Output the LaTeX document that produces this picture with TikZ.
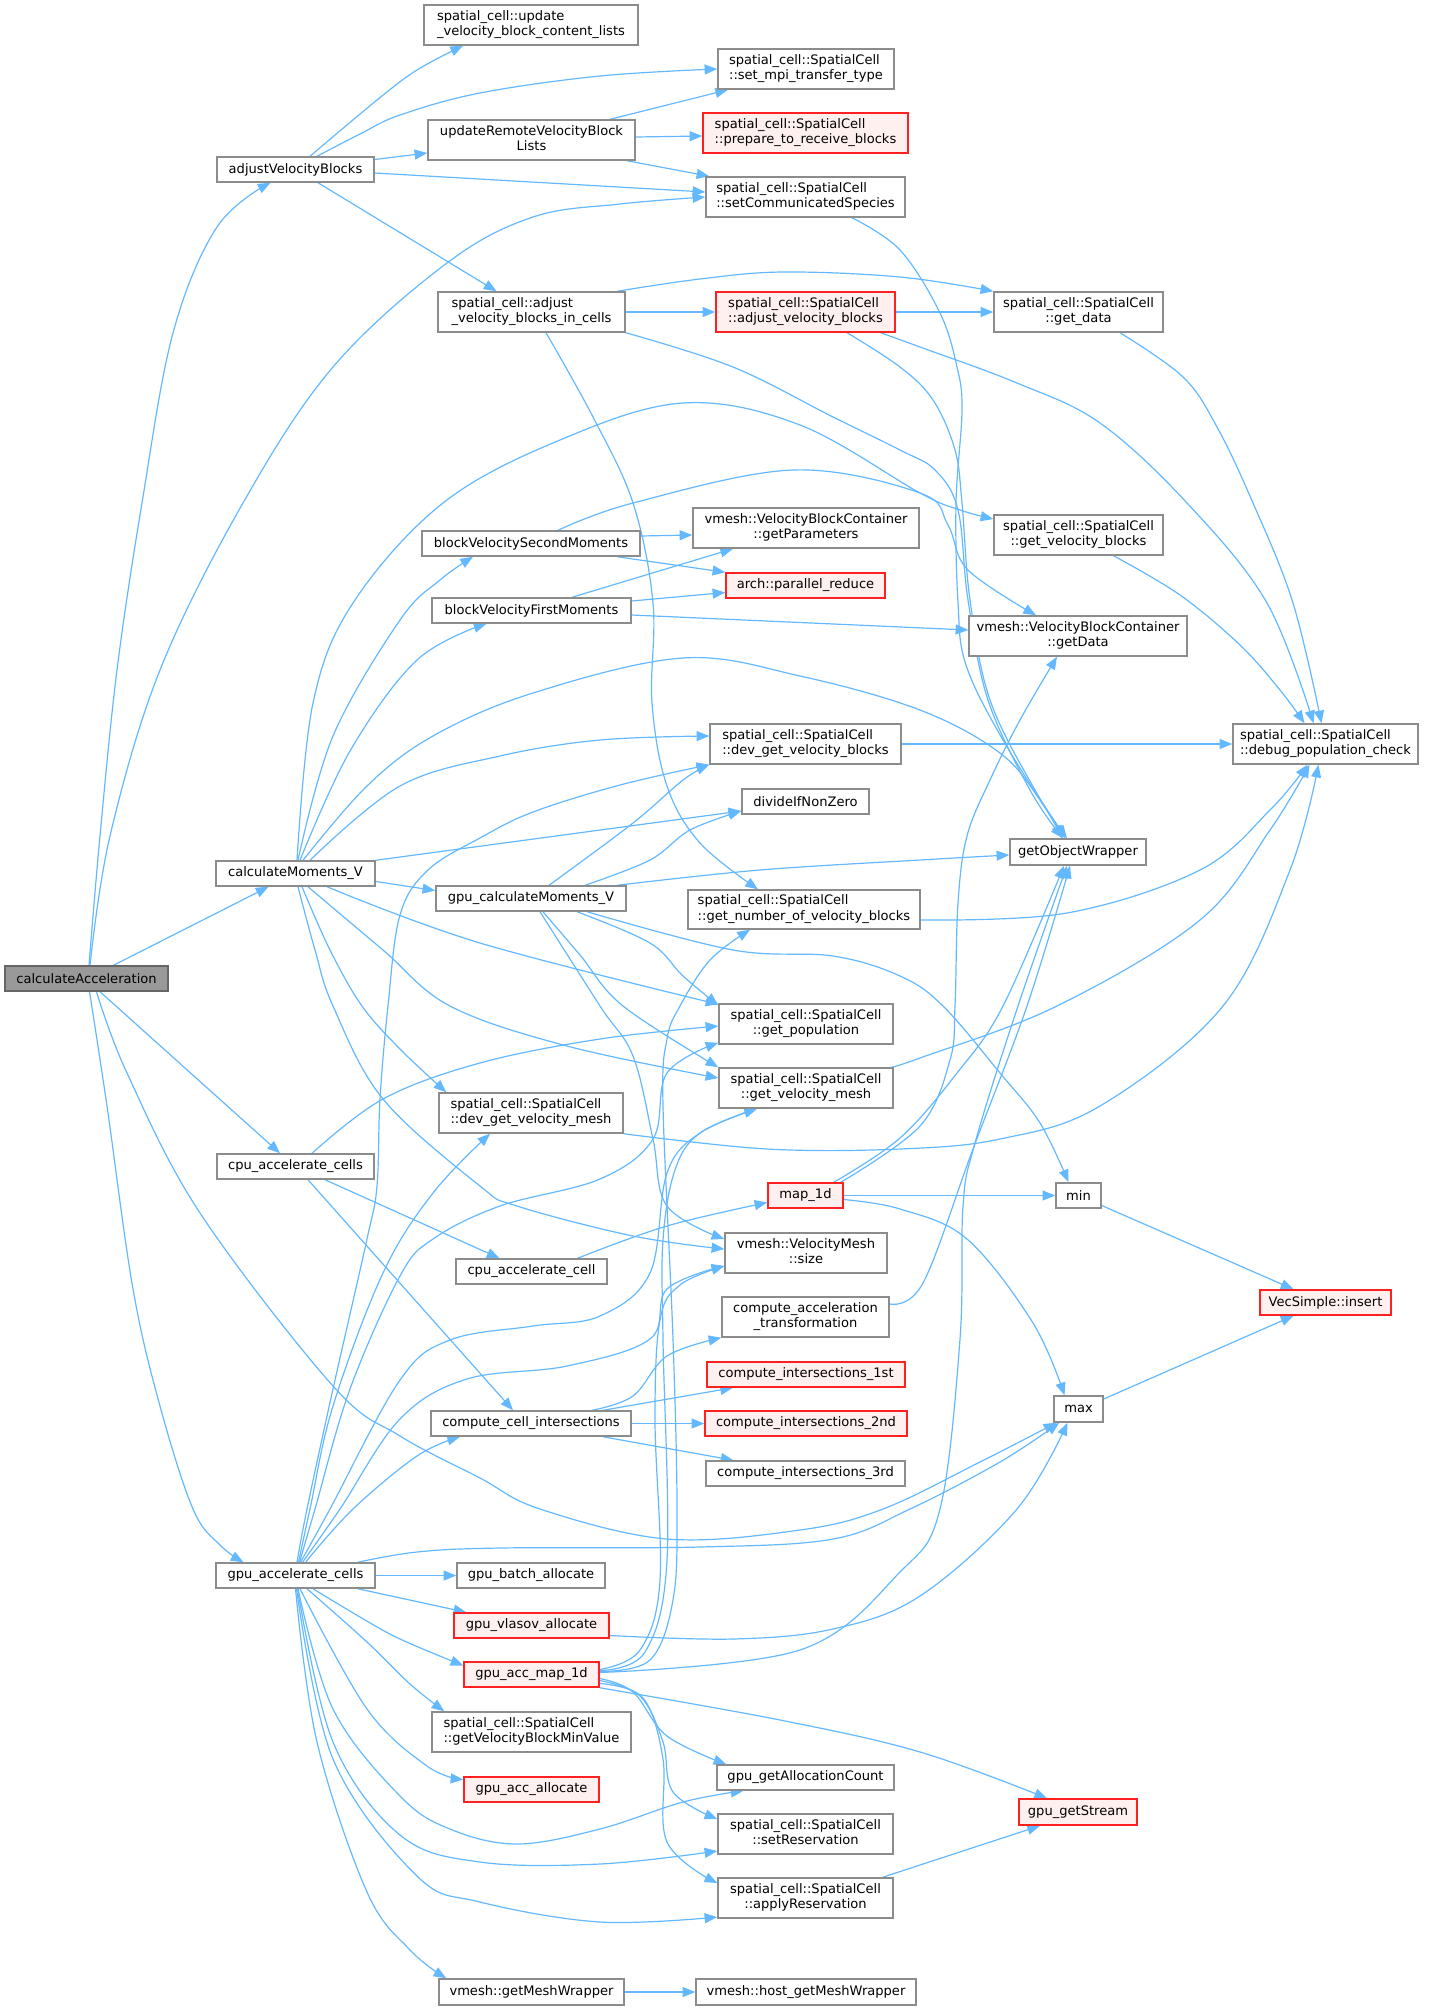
\documentclass[tikz,border=0pt]{standalone}
\usepackage{fontspec}
\setmainfont{DejaVu Sans}
\usetikzlibrary{arrows.meta,calc}
\definecolor{edgec}{HTML}{63B8FF}
\definecolor{ndgray}{HTML}{8C8C8C}
\definecolor{redfill}{HTML}{FFF0F0}
\definecolor{redline}{HTML}{FF2020}
\definecolor{rootfill}{HTML}{999999}
\definecolor{rootdraw}{HTML}{666666}
\newcommand\twol[2]{\begin{tabular}{@{}c@{}}\multicolumn{1}{@{}l@{}}{#1}\\#2\end{tabular}}
\newcommand\mkbox[7]{\node[#1,minimum width={(#5-#3)*0.75pt},minimum height={(#6-#4)*0.75pt}] (#2) at ({(#3+#5)/2},{(#4+#6)/2}) {#7};}
\pgfdeclarelayer{edgelayer}
\pgfsetlayers{edgelayer,main}
\tikzset{
  nd/.style={draw=ndgray,line width=1.1pt,fill=white,inner sep=0pt,text=black,font={\fontsize{9.8pt}{11.3pt}\selectfont}},
  rednd/.style={nd,draw=redline,fill=redfill},
  rootnd/.style={nd,draw=rootdraw,fill=rootfill},
  cedge/.style={draw=edgec,line width=0.9pt,-{Triangle[length=9.5pt,width=7.5pt]}},
  sm/.style={smooth,tension=0.6}
}
\begin{document}
\begin{tikzpicture}[x=0.75pt,y=-0.75pt]
\useasboundingbox (0,0) rectangle (1441,2010);
\mkbox{rootnd}{root}{5}{966}{168}{991}{calculateAcceleration}
\mkbox{nd}{adjVB}{217}{157}{374}{182}{adjustVelocityBlocks}
\mkbox{nd}{updCont}{424}{5}{638}{45}{\twol{spatial\_cell::update}{\_velocity\_block\_content\_lists}}
\mkbox{nd}{setMpi}{718}{49}{894}{89}{\twol{spatial\_cell::SpatialCell}{::set\_mpi\_transfer\_type}}
\mkbox{nd}{updRem}{428}{120}{635}{160}{\twol{updateRemoteVelocityBlock}{Lists}}
\mkbox{rednd}{prepRecv}{703}{113}{908}{153}{\twol{spatial\_cell::SpatialCell}{::prepare\_to\_receive\_blocks}}
\mkbox{nd}{setComm}{706}{177}{905}{217}{\twol{spatial\_cell::SpatialCell}{::setCommunicatedSpecies}}
\mkbox{nd}{adjCells}{438}{292}{625}{332}{\twol{spatial\_cell::adjust}{\_velocity\_blocks\_in\_cells}}
\mkbox{rednd}{adjVB2}{716}{292}{895}{332}{\twol{spatial\_cell::SpatialCell}{::adjust\_velocity\_blocks}}
\mkbox{nd}{getData}{994}{292}{1163}{332}{\twol{spatial\_cell::SpatialCell}{::get\_data}}
\mkbox{nd}{getVB}{994}{515}{1163}{555}{\twol{spatial\_cell::SpatialCell}{::get\_velocity\_blocks}}
\mkbox{nd}{vbcData}{969}{616}{1187}{656}{\twol{vmesh::VelocityBlockContainer}{::getData}}
\mkbox{nd}{debugPop}{1233}{724}{1418}{764}{\twol{spatial\_cell::SpatialCell}{::debug\_population\_check}}
\mkbox{nd}{getObj}{1010}{839}{1146}{865}{getObjectWrapper}
\mkbox{nd}{blkSec}{422}{531}{640}{556}{blockVelocitySecondMoments}
\mkbox{nd}{getParams}{693}{508}{919}{548}{\twol{vmesh::VelocityBlockContainer}{::getParameters}}
\mkbox{rednd}{parRed}{726}{573}{885}{598}{arch::parallel\_reduce}
\mkbox{nd}{blkFirst}{432}{598}{631}{623}{blockVelocityFirstMoments}
\mkbox{nd}{devGetVB}{710}{724}{901}{764}{\twol{spatial\_cell::SpatialCell}{::dev\_get\_velocity\_blocks}}
\mkbox{nd}{divide}{742}{789}{869}{814}{divideIfNonZero}
\mkbox{nd}{calcMom}{216}{861}{375}{886}{calculateMoments\_V}
\mkbox{nd}{gpuCalcMom}{436}{886}{626}{911}{gpu\_calculateMoments\_V}
\mkbox{nd}{getNumVB}{688}{890}{920}{929}{\twol{spatial\_cell::SpatialCell}{::get\_number\_of\_velocity\_blocks}}
\mkbox{nd}{getPop}{719}{1004}{893}{1044}{\twol{spatial\_cell::SpatialCell}{::get\_population}}
\mkbox{nd}{getVMesh}{719}{1068}{893}{1108}{\twol{spatial\_cell::SpatialCell}{::get\_velocity\_mesh}}
\mkbox{nd}{devGetVMesh}{439}{1093}{623}{1133}{\twol{spatial\_cell::SpatialCell}{::dev\_get\_velocity\_mesh}}
\mkbox{nd}{cpuCells}{217}{1154}{374}{1179}{cpu\_accelerate\_cells}
\mkbox{rednd}{mapOne}{768}{1183}{843}{1208}{map\_1d}
\mkbox{nd}{minN}{1056}{1183}{1101}{1208}{min}
\mkbox{nd}{vmSize}{725}{1233}{887}{1273}{\twol{vmesh::VelocityMesh}{::size}}
\mkbox{nd}{cpuCell}{456}{1259}{607}{1284}{cpu\_accelerate\_cell}
\mkbox{rednd}{vecIns}{1260}{1290}{1391}{1315}{VecSimple::insert}
\mkbox{nd}{accTrans}{722}{1297}{889}{1337}{\twol{compute\_acceleration}{\_transformation}}
\mkbox{rednd}{ciA}{707}{1362}{905}{1387}{compute\_intersections\_1st}
\mkbox{nd}{maxN}{1054}{1396}{1103}{1422}{max}
\mkbox{nd}{cellInt}{431}{1411}{631}{1436}{compute\_cell\_intersections}
\mkbox{rednd}{ciB}{705}{1411}{907}{1436}{compute\_intersections\_2nd}
\mkbox{nd}{ciC}{706}{1461}{905}{1486}{compute\_intersections\_3rd}
\mkbox{nd}{gpuCells}{216}{1563}{375}{1588}{gpu\_accelerate\_cells}
\mkbox{nd}{gpuBatch}{457}{1563}{605}{1588}{gpu\_batch\_allocate}
\mkbox{rednd}{gpuVlasov}{454}{1613}{609}{1638}{gpu\_vlasov\_allocate}
\mkbox{rednd}{gpuMap}{464}{1662}{599}{1687}{gpu\_acc\_map\_1d}
\mkbox{nd}{getVBMin}{432}{1712}{631}{1752}{\twol{spatial\_cell::SpatialCell}{::getVelocityBlockMinValue}}
\mkbox{nd}{gpuAllocCnt}{717}{1765}{894}{1790}{gpu\_getAllocationCount}
\mkbox{rednd}{gpuAccAlloc}{464}{1777}{599}{1802}{gpu\_acc\_allocate}
\mkbox{rednd}{gpuStream}{1019}{1799}{1137}{1825}{gpu\_getStream}
\mkbox{nd}{setRes}{718}{1814}{893}{1854}{\twol{spatial\_cell::SpatialCell}{::setReservation}}
\mkbox{nd}{applyRes}{718}{1878}{893}{1918}{\twol{spatial\_cell::SpatialCell}{::applyReservation}}
\mkbox{nd}{getMesh}{439}{1979}{624}{2005}{vmesh::getMeshWrapper}
\mkbox{nd}{hostMesh}{696}{1979}{916}{2005}{vmesh::host\_getMeshWrapper}

\begin{pgfonlayer}{edgelayer}
% calculateAcceleration
\draw[cedge] plot[sm] coordinates {($(root.north)+(2.5,0)$) (100,836) (117,670) (142,503) (173,333) (217,227) ($(adjVB.south)+(-25,0)$)};
\draw[cedge] plot[sm] coordinates {($(root.north)+(3.5,0)$) (110,836) (160,670) (243,503) (333,367) (447,263) (533,217) (620,204) (setComm.west)};
\draw[cedge] ($(root.north)+(27,0)$) -- ($(calcMom.south)+(-27,0)$);
\draw[cedge] ($(root.south)+(13.5,0)$) -- ($(cpuCells.north)+(-15.5,0)$);
\draw[cedge] plot[sm] coordinates {($(root.south)+(3,0)$) (107,1106) (133,1289) (160,1406) (193,1509) (220,1545) ($(gpuCells.north)+(-52,0)$)};
\draw[cedge] plot[sm] coordinates {($(root.south)+(10,0)$) (127,1073) (200,1213) (333,1386) (400,1436) (480,1478) (540,1509) (667,1539) (800,1530) (883,1509) (980,1462) ($(maxN.south west)+(3,0)$)};
% adjustVelocityBlocks
\draw[cedge] plot[sm] coordinates {($(adjVB.north)+(14.5,0)$) (377,100) (417,70) ($(updCont.south)+(-68,0)$)};
\draw[cedge] plot[sm] coordinates {($(adjVB.north)+(21.5,0)$) (360,134) (400,115) (480,93) (600,76) (setMpi.west)};
\draw[cedge] ($(adjVB.east)+(0,-10)$) -- ($(updRem.west)+(0,13)$);
\draw[cedge] ($(adjVB.east)+(0,3.5)$) -- ($(setComm.west)+(0,-5)$);
\draw[cedge] ($(adjVB.south)+(22.5,0)$) -- ($(adjCells.north)+(-35,0)$);
\draw[cedge] ($(updRem.north)+(78.5,0)$) -- ($(setMpi.south)+(-78,0)$);
\draw[cedge] ($(updRem.east)+(0,-3)$) -- ($(prepRecv.west)+(0,3)$);
\draw[cedge] ($(updRem.south)+(95.5,0)$) -- ($(setComm.north west)+(4,0)$);
\draw[cedge] plot[sm] coordinates {($(setComm.south)+(46.5,0)$) (900,250) (940,313) (957,367) (962,410) (956,503) (958,603) (966,665) (1003,740) ($(getObj.north)+(-13,0)$)};
% adjust_velocity_blocks_in_cells
\draw[cedge] plot[sm] coordinates {($(adjCells.north)+(85.5,0)$) (700,279) (783,272) (900,277) (getData.north west)};
\draw[cedge] (adjCells.east) -- (adjVB2.west);
\draw[cedge] plot[sm] coordinates {(adjCells.south east) (733,367) (833,417) (900,450) (935,470) (958,510) (968,600) (988,700) (1030,790) ($(getObj.north)+(-15,0)$)};
\draw[cedge] plot[sm] coordinates {($(adjCells.south)+(14.5,0)$) (593,417) (633,503) (653,603) (652,703) (667,786) (700,843) ($(getNumVB.north)+(-46,0)$)};
\draw[cedge] (adjVB2.east) -- (getData.west);
\draw[cedge] plot[sm] coordinates {($(adjVB2.south)+(41.5,0)$) (900,367) (933,400) (955,450) (962,503) (970,600) (990,700) (1035,790) ($(getObj.north)+(-11,0)$)};
\draw[cedge] plot[sm] coordinates {($(adjVB2.south east)+(-15,0)$) (920,347) (1017,383) (1100,423) (1187,503) (1267,603) ($(debugPop.north)+(-12,0)$)};
\draw[cedge] plot[sm] coordinates {($(getData.south)+(41.5,0)$) (1183,377) (1217,427) (1253,503) (1293,603) ($(debugPop.north)+(-4,0)$)};
\draw[cedge] plot[sm] coordinates {($(getVB.south)+(35,0)$) (1180,595) (1240,645) (1280,690) ($(debugPop.north)+(-21,0)$)};
\draw[cedge] (devGetVB.east) -- (debugPop.west);
\draw[cedge] plot[sm] coordinates {($(getNumVB.east)+(0,10.5)$) (1067,913) (1200,870) (1270,810) ($(debugPop.south)+(-18,0)$)};
\draw[cedge] plot[sm] coordinates {($(getVMesh.north east)+(-3,0)$) (920,1058) (1057,1006) (1200,920) (1270,830) ($(debugPop.south)+(-16,0)$)};
\draw[cedge] plot[sm] coordinates {(devGetVMesh.south east) (767,1149) (900,1149) (1000,1139) (1100,1106) (1223,1006) (1290,870) ($(debugPop.south)+(-7,0)$)};
% calculateMoments_V
\draw[cedge] plot[sm] coordinates {($(calcMom.north)+(1.5,0)$) (313,703) (353,603) (443,503) (560,440) (683,403) (800,425) (920,493) (960,510) ($(getVB.west)+(0,-16)$)};
\draw[cedge] plot[sm] coordinates {($(calcMom.north)+(2.5,0)$) (333,736) (400,620) (440,580) ($(blkSec.south)+(-58,0)$)};
\draw[cedge] plot[sm] coordinates {($(calcMom.north)+(4.5,0)$) (350,751) (417,660) ($(blkFirst.south)+(-45,0)$)};
\draw[cedge] plot[sm] coordinates {($(calcMom.north)+(7.5,0)$) (367,786) (433,736) (533,693) (683,658) (800,676) (920,710) (1000,753) (1040,800) ($(getObj.north)+(-16,0)$)};
\draw[cedge] plot[sm] coordinates {($(calcMom.north)+(14.5,0)$) (400,786) (500,756) (600,740) ($(devGetVB.west)+(0,-8)$)};
\draw[cedge] (calcMom.north east) -- ($(divide.west)+(0,9.5)$);
\draw[cedge] ($(calcMom.east)+(0,8)$) -- ($(gpuCalcMom.west)+(0,-8)$);
\draw[cedge] plot[sm] coordinates {($(calcMom.south)+(31.5,0)$) (480,943) ($(getPop.north west)+(0,1)$)};
\draw[cedge] plot[sm] coordinates {($(calcMom.south)+(12.5,0)$) (383,950) (450,1006) (567,1046) ($(getVMesh.west)+(0,-10)$)};
\draw[cedge] plot[sm] coordinates {($(calcMom.south)+(6.5,0)$) (330,950) (362,1006) (400,1049) ($(devGetVMesh.north west)+(8,0)$)};
\draw[cedge] plot[sm] coordinates {($(calcMom.south)+(2.5,0)$) (315,950) (333,1006) (383,1099) (480,1186) (517,1206) (633,1236) ($(vmSize.west)+(0,-4)$)};
% block moments
\draw[cedge] ($(blkSec.east)+(0,-7.5)$) -- ($(getParams.west)+(0,7)$);
\draw[cedge] ($(blkSec.south)+(86,0)$) -- (parRed.north west);
\draw[cedge] plot[sm] coordinates {($(blkSec.north)+(27,0)$) (633,503) (793,470) (920,493) (948,525) (968,570) ($(vbcData.north)+(-42,0)$)};
\draw[cedge] ($(blkFirst.north)+(40.5,0)$) -- ($(getParams.south)+(-73,0)$);
\draw[cedge] ($(blkFirst.east)+(0,-9.5)$) -- ($(parRed.west)+(0,7)$);
\draw[cedge] ($(blkFirst.east)+(0,4.5)$) -- ($(vbcData.west)+(0,-6)$);
% gpu_calculateMoments_V
\draw[cedge] plot[sm] coordinates {($(gpuCalcMom.north)+(18,0)$) (633,823) (683,780) (devGetVB.south west)};
\draw[cedge] plot[sm] coordinates {($(gpuCalcMom.north)+(54,0)$) (650,860) (690,830) ($(divide.west)+(0,9.5)$)};
\draw[cedge] plot[sm] coordinates {($(gpuCalcMom.north)+(86,0)$) (760,870) (920,860) ($(getObj.west)+(0,3)$)};
\draw[cedge] plot[sm] coordinates {($(gpuCalcMom.south)+(46,0)$) (650,943) (683,976) ($(getPop.north west)+(0,2)$)};
\draw[cedge] plot[sm] coordinates {($(gpuCalcMom.south)+(12,0)$) (580,955) (623,1006) (getVMesh.north west)};
\draw[cedge] plot[sm] coordinates {($(gpuCalcMom.south)+(9,0)$) (600,1006) (633,1056) (653,1139) (667,1206) ($(vmSize.west)+(0,-14)$)};
\draw[cedge] plot[sm] coordinates {($(gpuCalcMom.south)+(56,0)$) (733,950) (833,956) (900,976) (943,1006) (1000,1073) (1040,1123) ($(minN.north)+(-10,0)$)};
% cpu
\draw[cedge] plot[sm] coordinates {($(cpuCells.north)+(16.5,0)$) (383,1099) (480,1063) (600,1039) ($(getPop.west)+(0,2)$)};
\draw[cedge] ($(cpuCells.south)+(29.5,0)$) -- ($(cpuCell.north)+(-32,0)$);
\draw[cedge] ($(cpuCells.south)+(12.5,0)$) -- ($(cellInt.north)+(-18,0)$);
\draw[cedge] plot[sm] coordinates {($(cpuCell.north)+(46,0)$) (667,1226) ($(mapOne.west)+(0,7)$)};
\draw[cedge] (mapOne.east) -- (minN.west);
\draw[cedge] plot[sm] coordinates {($(mapOne.east)+(0,4)$) (900,1209) (967,1239) (1033,1323) ($(maxN.north)+(-14,0)$)};
\draw[cedge] plot[sm] coordinates {($(mapOne.north east)+(-10,0)$) (900,1138) (957,1073) (1003,1006) ($(getObj.south)+(-14,0)$)};
\draw[cedge] plot[sm] coordinates {($(mapOne.north east)+(-3,0)$) (920,1126) (950,1060) (955,1006) (958,903) (967,836) (990,780) (1020,720) ($(vbcData.south)+(-21,0)$)};
\draw[cedge] ($(minN.east)+(0,10)$) -- ($(vecIns.north)+(-32,0)$);
\draw[cedge] ($(maxN.east)+(0,-10)$) -- ($(vecIns.south)+(-32,0)$);
\draw[cedge] plot[sm] coordinates {($(accTrans.east)+(0,-13)$) (923,1283) (973,1149) (1027,1006) ($(getObj.south)+(-8,0)$)};
\draw[cedge] plot[sm] coordinates {($(cellInt.north)+(61,0)$) (633,1396) (667,1356) (accTrans.south west)};
\draw[cedge] ($(cellInt.north)+(72,0)$) -- ($(ciA.south)+(-73,0)$);
\draw[cedge] (cellInt.east) -- (ciB.west);
\draw[cedge] ($(cellInt.south)+(72,0)$) -- ($(ciC.north)+(-72,0)$);
% gpu_accelerate_cells
\draw[cedge] plot[sm] coordinates {($(gpuCells.north)+(1.5,0)$) (307,1509) (333,1389) (367,1239) (377,1186) (380,1099) (388,1006) (400,915) (428,870) (480,838) (533,812) (620,785) (devGetVB.south west)};
\draw[cedge] plot[sm] coordinates {($(gpuCells.north)+(3,0)$) (310,1509) (333,1406) (383,1273) (433,1193) ($(devGetVMesh.south)+(-41,0)$)};
\draw[cedge] plot[sm] coordinates {($(gpuCells.north)+(4,0)$) (315,1509) (350,1389) (400,1276) (433,1239) (500,1206) (600,1179) (653,1139) (667,1073) ($(getPop.south west)+(0,-2)$)};
\draw[cedge] plot[sm] coordinates {($(gpuCells.north)+(5,0)$) (330,1509) (400,1380) (450,1340) (533,1326) (600,1316) (650,1273) (667,1173) (700,1133) ($(getVMesh.south)+(-49,0)$)};
\draw[cedge] plot[sm] coordinates {($(gpuCells.north)+(7,0)$) (340,1509) (400,1419) (467,1379) (567,1366) (650,1339) (667,1289) ($(vmSize.west)+(0,13)$)};
\draw[cedge] plot[sm] coordinates {($(gpuCells.north)+(10,0)$) (353,1509) (417,1456) ($(cellInt.south)+(-71,0)$)};
\draw[cedge] plot[sm] coordinates {($(gpuCells.north east)+(-18,0)$) (417,1552) (500,1548) (700,1547) (833,1539) (910,1509) (1000,1462) ($(maxN.south west)+(6,0)$)};
\draw[cedge] (gpuCells.east) -- (gpuBatch.west);
\draw[cedge] ($(gpuCells.south east)+(-18,0)$) -- ($(gpuVlasov.north west)+(13,0)$);
\draw[cedge] plot[sm] coordinates {($(gpuCells.south)+(17.5,0)$) (360,1617) (400,1639) ($(gpuMap.west)+(0,-9)$)};
\draw[cedge] plot[sm] coordinates {($(gpuCells.south)+(11.5,0)$) (367,1642) (410,1684) ($(getVBMin.north west)+(13,0)$)};
\draw[cedge] plot[sm] coordinates {($(gpuCells.south)+(4.5,0)$) (367,1709) (427,1766) ($(gpuAccAlloc.west)+(0,-10)$)};
\draw[cedge] plot[sm] coordinates {($(gpuCells.south)+(2.5,0)$) (333,1709) (400,1796) (450,1829) (517,1844) (600,1829) (683,1802) ($(gpuAllocCnt.south)+(-62,0)$)};
\draw[cedge] plot[sm] coordinates {($(gpuCells.south)+(2,0)$) (333,1742) (400,1835) (480,1862) (600,1864) ($(setRes.west)+(0,17)$)};
\draw[cedge] plot[sm] coordinates {($(gpuCells.south)+(1,0)$) (333,1759) (417,1876) (480,1902) (600,1922) ($(applyRes.west)+(0,19)$)};
\draw[cedge] plot[sm] coordinates {(gpuCells.south) (317,1742) (367,1892) (410,1950) ($(getMesh.north west)+(8,0)$)};
% gpu_vlasov_allocate, gpu_acc_map_1d
\draw[cedge] plot[sm] coordinates {($(gpuVlasov.east)+(0,10)$) (733,1639) (833,1629) (920,1596) (1017,1509) ($(maxN.south)+(-11,0)$)};
\draw[cedge] plot[sm] coordinates {($(gpuMap.east)+(0,-3)$) (650,1660) (673,1600) (677,1509) (673,1339) (663,1106) (667,1039) (680,1006) (710,960) ($(getNumVB.south)+(-54,0)$)};
\draw[cedge] plot[sm] coordinates {($(gpuMap.east)+(0,-4)$) (645,1652) (667,1560) (663,1340) (663,1240) (675,1170) (700,1133) ($(getVMesh.south)+(-49,0)$)};
\draw[cedge] plot[sm] coordinates {($(gpuMap.east)+(0,-5)$) (640,1650) (660,1580) (655,1420) (660,1320) (680,1285) ($(vmSize.west)+(0,13)$)};
\draw[cedge] plot[sm] coordinates {($(gpuMap.east)+(0,-2)$) (800,1650) (900,1572) (940,1509) (960,1339) (963,1206) (975,1143) (1018,1006) ($(getObj.south)+(-11,0)$)};
\draw[cedge] plot[sm] coordinates {($(gpuMap.east)+(0,4)$) (633,1692) (667,1736) ($(gpuAllocCnt.north west)+(10,0)$)};
\draw[cedge] plot[sm] coordinates {($(gpuMap.east)+(0,6)$) (640,1696) (663,1742) (673,1792) ($(setRes.west)+(0,-15)$)};
\draw[cedge] plot[sm] coordinates {($(gpuMap.east)+(0,9)$) (643,1698) (663,1759) (667,1842) ($(applyRes.west)+(0,-15)$)};
\draw[cedge] plot[sm] coordinates {(gpuMap.south east) (780,1720) (920,1752) ($(gpuStream.north)+(-31,0)$)};
\draw[cedge] ($(applyRes.north)+(77,0)$) -- ($(gpuStream.south)+(-38,0)$);
\draw[cedge] (getMesh.east) -- (hostMesh.west);
\end{pgfonlayer}
\end{tikzpicture}
\end{document}
